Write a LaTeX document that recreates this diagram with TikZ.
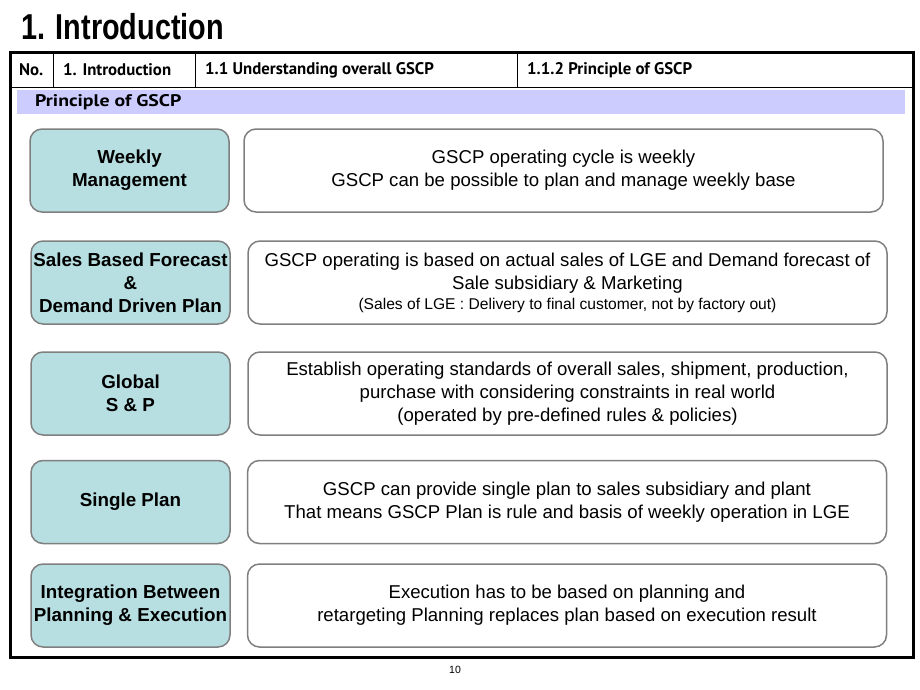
\documentclass[tikz,border=0pt]{standalone}
\usepackage{fontspec}
\setmainfont{Liberation Sans}
\newfontfamily\hdrfont{PT Sans}
\usetikzlibrary{positioning}

\definecolor{tealbox}{HTML}{B7DFE2}
\definecolor{bandblue}{HTML}{CCCCFF}
\definecolor{edgegray}{HTML}{7F7F7F}

\begin{document}
\begin{tikzpicture}[x=1pt,y=-1pt,
  key box/.style={draw=edgegray,line width=1.5pt,fill=tealbox,
  rounded corners=12pt,minimum width=199pt,minimum height=83pt,
  align=center,inner sep=0pt,font=\fontsize{18.8}{23}\selectfont\bfseries},
  text box/.style={draw=edgegray,line width=1.5pt,fill=white,
  rounded corners=12pt,minimum width=639pt,minimum height=83pt,
  align=center,inner sep=0pt,font=\fontsize{18.6}{23}\selectfont},
  head cell/.style={anchor=west,inner sep=0pt,
  font=\hdrfont\fontsize{16.8}{18}\selectfont\bfseries}]

  \useasboundingbox (0,0) rectangle (920,690);

  % title and page frame
  \node[anchor=west,inner sep=0pt] (title) at (21,27)
    {\scalebox{0.8}[1]{\fontsize{36}{36}\selectfont\bfseries 1. Introduction}};
  \draw[line width=3pt] (10,53) rectangle (913,657);
  \draw[line width=0.8pt] (10,87) -- (913,87);
  \draw[line width=0.8pt] (53,53) -- (53,87)
    (195,53) -- (195,87) (517,53) -- (517,87);

  \node[head cell] (no)   at (19,70)  {No.};
  \node[head cell] (sec)  at (63,70)  {1. Introduction};
  \node[head cell] (sub)  at (205,70) {1.1 Understanding overall GSCP};
  \node[head cell] (subsub) at (527,70) {1.1.2 Principle of GSCP};

  \fill[bandblue] (17,90) rectangle (905,114);
  \node[head cell] (band) at (35,102) {\scalebox{1.18}[1]{Principle of GSCP}};

  % left keys
  \node[key box] (weekly) at (129.5,170.5) {Weekly\\Management};
  \node[key box] (sales)  at (130.5,282.5)
    {Sales Based Forecast\\\&\\Demand Driven Plan};
  \node[key box] (global) at (130.5,393.5) {Global\\S \& P};
  \node[key box] (single) at (130.5,502)   {Single Plan};
  \node[key box] (integ)  at (130.5,605.5)
    {Integration Between\\Planning \& Execution};

  % right descriptions
  \node[text box] (weeklyT) at (563.5,170.5)
    {GSCP operating cycle is weekly\\
     GSCP can be possible to plan and manage weekly base};
  \node[text box] (salesT) at (567.5,282.5)
    {GSCP operating is based on actual sales of LGE and Demand forecast of\\
     Sale subsidiary \& Marketing\\[-3pt]
     {\fontsize{15.6}{19}\selectfont (Sales of LGE : Delivery to final customer, not by factory out)}};
  \node[text box] (globalT) at (567.5,393.5)
    {Establish operating standards of overall sales, shipment, production,\\
     purchase with considering constraints in real world\\
     (operated by pre-defined rules \& policies)};
  \node[text box] (singleT) at (567,502)
    {GSCP can provide single plan to sales subsidiary and plant\\
     That means GSCP Plan is rule and basis of weekly operation in LGE};
  \node[text box] (integT) at (567,605.5)
    {Execution has to be based on planning and\\
     retargeting Planning replaces plan based on execution result};

  \node[font=\fontsize{10.5}{12}\selectfont] (pagenum) at (455,670) {10};

\end{tikzpicture}
\end{document}
